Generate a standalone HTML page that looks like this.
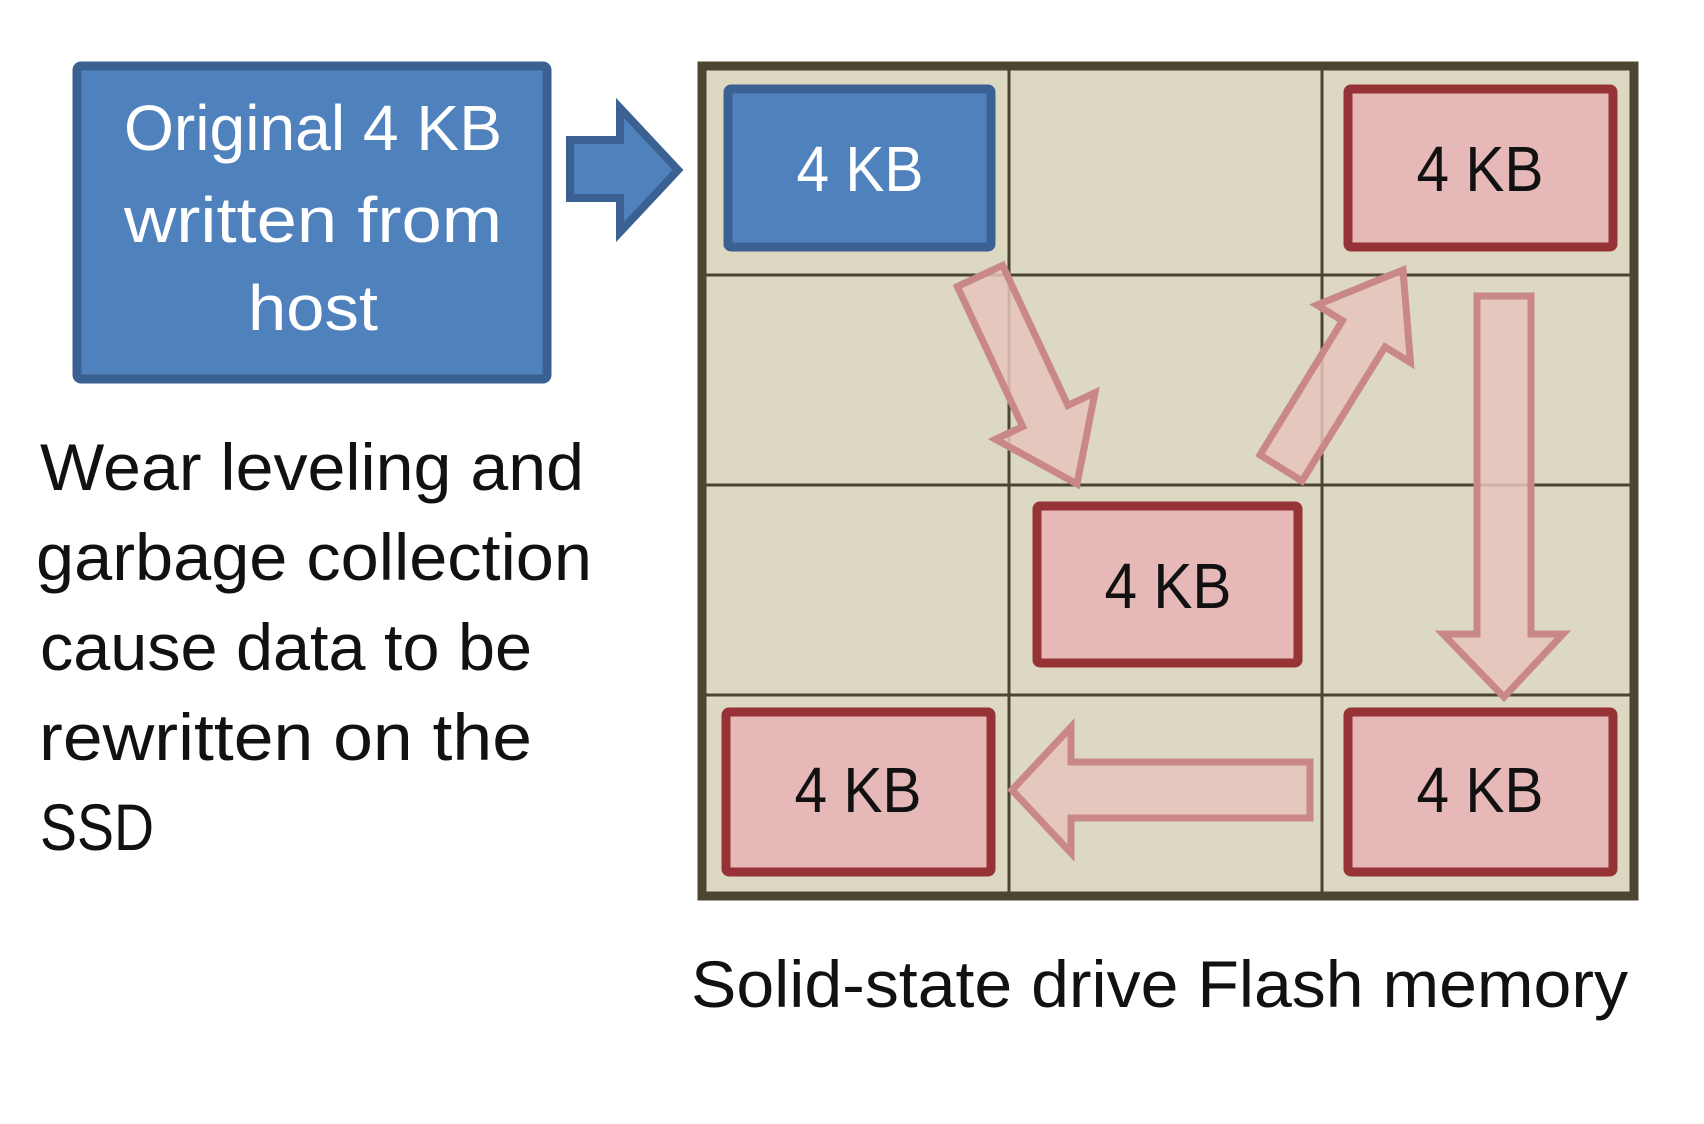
<!DOCTYPE html>
<html><head><meta charset="utf-8"><style>
html,body{margin:0;padding:0;background:#fff;}
svg{display:block;}
text{font-family:"Liberation Sans",sans-serif;}
</style></head><body>
<svg width="1704" height="1124" viewBox="0 0 1704 1124" xmlns="http://www.w3.org/2000/svg">
<rect width="1704" height="1124" fill="#fff"/>
<rect x="77" y="66" width="470" height="313" rx="4" fill="#4f81bd" stroke="#3a6191" stroke-width="9"/>
<g fill="#fff" font-size="64" text-anchor="middle">
<text x="313" y="150" textLength="378" lengthAdjust="spacingAndGlyphs">Original 4 KB</text>
<text x="313" y="242" textLength="378" lengthAdjust="spacingAndGlyphs">written from</text>
<text x="313" y="330" textLength="130" lengthAdjust="spacingAndGlyphs">host</text>
</g>
<polygon points="570,140 620,140 620,108 678,170 620,232 620,198 570,198" fill="#4f81bd" stroke="#3a6191" stroke-width="8" stroke-linejoin="miter"/>
<g fill="#111" font-size="66">
<text x="40" y="490" textLength="544" lengthAdjust="spacingAndGlyphs">Wear leveling  and</text>
<text x="36" y="580" textLength="556" lengthAdjust="spacingAndGlyphs">garbage collection</text>
<text x="40" y="670" textLength="492" lengthAdjust="spacingAndGlyphs">cause data to be</text>
<text x="39" y="760" textLength="493" lengthAdjust="spacingAndGlyphs">rewritten on the</text>
<text x="40" y="850" textLength="114" lengthAdjust="spacingAndGlyphs">SSD</text>
</g>
<rect x="702" y="66" width="932" height="830" fill="#ddd8c1" stroke="#4c4630" stroke-width="9"/>
<g stroke="#4c4630" stroke-width="3">
<line x1="1009" y1="66" x2="1009" y2="896"/>
<line x1="1322" y1="66" x2="1322" y2="896"/>
<line x1="702" y1="275" x2="1634" y2="275"/>
<line x1="702" y1="485" x2="1634" y2="485"/>
<line x1="702" y1="695" x2="1634" y2="695"/>
</g>
<rect x="728" y="89" width="263" height="158" rx="3" fill="#4f81bd" stroke="#3a6191" stroke-width="9"/>
<g fill="#e6b8b7" stroke="#973236" stroke-width="9">
<rect x="1348" y="89" width="265" height="158" rx="3"/>
<rect x="1037" y="506" width="261" height="157" rx="3"/>
<rect x="726" y="712" width="265" height="160" rx="3"/>
<rect x="1348" y="712" width="265" height="160" rx="3"/>
</g>
<g fill="#e6c4bd" fill-opacity="0.85" stroke="#c98885" stroke-width="7" stroke-linejoin="miter">
<polygon points="1002.6,265.4 1067.9,405.4 1095,392.7 1077,484 995.5,439.3 1022.7,426.6 957.4,286.6"/>
<polygon points="1302,481 1385,346.9 1410.5,362.6 1403,270 1316.9,305 1342.4,320.7 1260,455"/>
<polygon points="1477,296 1531,296 1531,634 1563,634 1504,697 1443,634 1477,634"/>
<polygon points="1310,762 1071,762 1071,727 1012,790 1071,853 1071,818 1310,818"/>
</g>
<g font-size="64" text-anchor="middle">
<text x="860" y="191" fill="#fff" textLength="127" lengthAdjust="spacingAndGlyphs">4 KB</text>
<text x="1480" y="191" fill="#111" textLength="127" lengthAdjust="spacingAndGlyphs">4 KB</text>
<text x="1168" y="608" fill="#111" textLength="127" lengthAdjust="spacingAndGlyphs">4 KB</text>
<text x="858" y="812" fill="#111" textLength="127" lengthAdjust="spacingAndGlyphs">4 KB</text>
<text x="1480" y="812" fill="#111" textLength="127" lengthAdjust="spacingAndGlyphs">4 KB</text>
</g>
<text x="691" y="1007" font-size="66" fill="#111" textLength="937" lengthAdjust="spacingAndGlyphs">Solid-state drive Flash memory</text>
</svg>
</body></html>
